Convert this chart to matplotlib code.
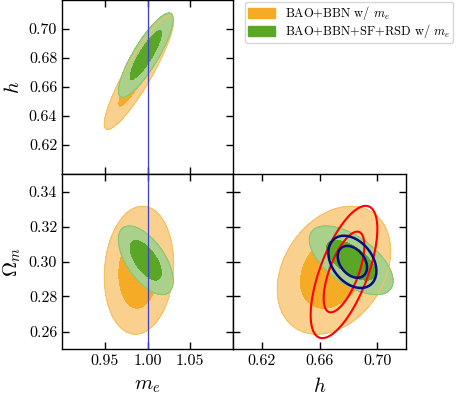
import numpy as np
import matplotlib
matplotlib.use("Agg")
import matplotlib.pyplot as plt
from matplotlib.patches import Patch

plt.rcParams["font.family"] = "serif"
plt.rcParams["font.serif"] = ["cmr10", "DejaVu Serif"]
plt.rcParams["mathtext.fontset"] = "cm"
plt.rcParams["axes.formatter.use_mathtext"] = True

# parameter order: m_e, h, Omega_m
params = ["me", "h", "om"]
labels = {"me": r"$m_e$", "h": r"$h$", "om": r"$\Omega_m$"}
limits = {"me": (0.9, 1.1), "h": (0.60, 0.72), "om": (0.25, 0.35)}
ticks = {"me": [0.95, 1.00, 1.05],
         "h": [0.62, 0.64, 0.66, 0.68, 0.70],
         "om": [0.26, 0.28, 0.30, 0.32, 0.34]}
ticks_h_bottom = [0.62, 0.66, 0.70]

# gaussian approximations of the chains (mean, sigma, correlations)
bao_mean = [0.990, 0.670, 0.295]
bao_sigma = [0.0163, 0.0158, 0.0147]
bao_corr = {("me", "h"): 0.9, ("me", "om"): 0.1, ("h", "om"): 0.3}

full_mean = [0.998, 0.682, 0.3007]
full_sigma = [0.0129, 0.0117, 0.0079]
full_corr = {("me", "h"): 0.85, ("me", "om"): -0.6, ("h", "om"): -0.6}

# extra unfilled contours in the h - Omega_m panel
red_mean = [0.677, 0.294]
red_sigma = [0.0093, 0.0152]
red_corr = 0.65

navy_mean = [0.6828, 0.2998]
navy_sigma = [0.0067, 0.0060]
navy_corr = -0.35

me_fiducial = 1.0

legend_labels = [r"BAO+BBN w/ $m_e$", r"BAO+BBN+SF+RSD w/ $m_e$"]

orange = ("#f6ab27", "#f9d08e", "#f5c160")
green = ("#5aa626", "#a9d18c", "#8cc46e")
levels = [0, 2.30, 6.18]


def chi2_grid(px, py, mean, sigma, rho):
    x = np.linspace(*limits[px], 400)
    y = np.linspace(*limits[py], 400)
    X, Y = np.meshgrid(x, y)
    dx = (X - mean[0]) / sigma[0]
    dy = (Y - mean[1]) / sigma[1]
    chi2 = (dx**2 - 2 * rho * dx * dy + dy**2) / (1 - rho**2)
    return X, Y, chi2


def sub(mean, sigma, corr, px, py):
    i, j = params.index(px), params.index(py)
    return [mean[i], mean[j]], [sigma[i], sigma[j]], corr[(px, py)]


def filled(ax, px, py, mean, sigma, corr, cols):
    m, s, r = sub(mean, sigma, corr, px, py)
    X, Y, c = chi2_grid(px, py, m, s, r)
    ax.contourf(X, Y, c, levels=levels, colors=[cols[0], cols[1]])
    ax.contour(X, Y, c, levels=[6.18], colors=[cols[2]], linewidths=0.8)


def style(ax, px, py, showx, showy):
    ax.set_xlim(limits[px])
    ax.set_ylim(limits[py])
    ax.tick_params(direction="in", top=True, right=True, length=5,
                   width=1, labelsize=11.5)
    ax.set_yticks(ticks[py])
    if px == "h":
        ax.set_xticks(ticks_h_bottom)
    else:
        ax.set_xticks(ticks[px])
    ax.xaxis.set_major_formatter(plt.FormatStrFormatter("%.2f"))
    ax.yaxis.set_major_formatter(plt.FormatStrFormatter("%.2f"))
    if not showx:
        ax.tick_params(labelbottom=False)
    if not showy:
        ax.tick_params(labelleft=False)
    for sp in ax.spines.values():
        sp.set_linewidth(1)


fig = plt.figure(figsize=(4.57, 3.95), dpi=100)
W, H = 457, 395
x0, x1, x2 = 62, 233, 406
y0, y1, y2 = 0, 174, 349

ax_tl = fig.add_axes([x0 / W, 1 - y1 / H, (x1 - x0) / W, (y1 - y0) / H])
ax_bl = fig.add_axes([x0 / W, 1 - y2 / H, (x1 - x0) / W, (y2 - y1) / H])
ax_br = fig.add_axes([x1 / W, 1 - y2 / H, (x2 - x1) / W, (y2 - y1) / H])

for ax, px, py in [(ax_tl, "me", "h"), (ax_bl, "me", "om"), (ax_br, "h", "om")]:
    filled(ax, px, py, bao_mean, bao_sigma, bao_corr, orange)
    filled(ax, px, py, full_mean, full_sigma, full_corr, green)

for ax in (ax_tl, ax_bl):
    ax.axvline(me_fiducial, color="#3d3dc8", lw=0.9)

for m, s, r, col, lw in [(red_mean, red_sigma, red_corr, "#ff0000", 1.5),
                         (navy_mean, navy_sigma, navy_corr, "#0b0b80", 1.8)]:
    X, Y, c = chi2_grid("h", "om", m, s, r)
    ax_br.contour(X, Y, c, levels=[2.30, 6.18], colors=[col], linewidths=lw)

style(ax_tl, "me", "h", False, True)
style(ax_bl, "me", "om", True, True)
style(ax_br, "h", "om", True, False)

ax_tl.set_ylabel(labels["h"], fontsize=15)
ax_bl.set_ylabel(labels["om"], fontsize=15)
ax_bl.set_xlabel(labels["me"], fontsize=15, labelpad=7)
ax_br.set_xlabel(labels["h"], fontsize=15, labelpad=7)

handles = [Patch(color=orange[0]), Patch(color=green[0])]
fig.legend(handles, legend_labels, loc="upper right",
           bbox_to_anchor=(455 / W, 1.0), fontsize=9, frameon=True,
           edgecolor="#cccccc", handlelength=2.2, handleheight=0.8,
           labelspacing=0.0, borderpad=0.2, borderaxespad=0.15)

fig.savefig("out.png", dpi=100)
